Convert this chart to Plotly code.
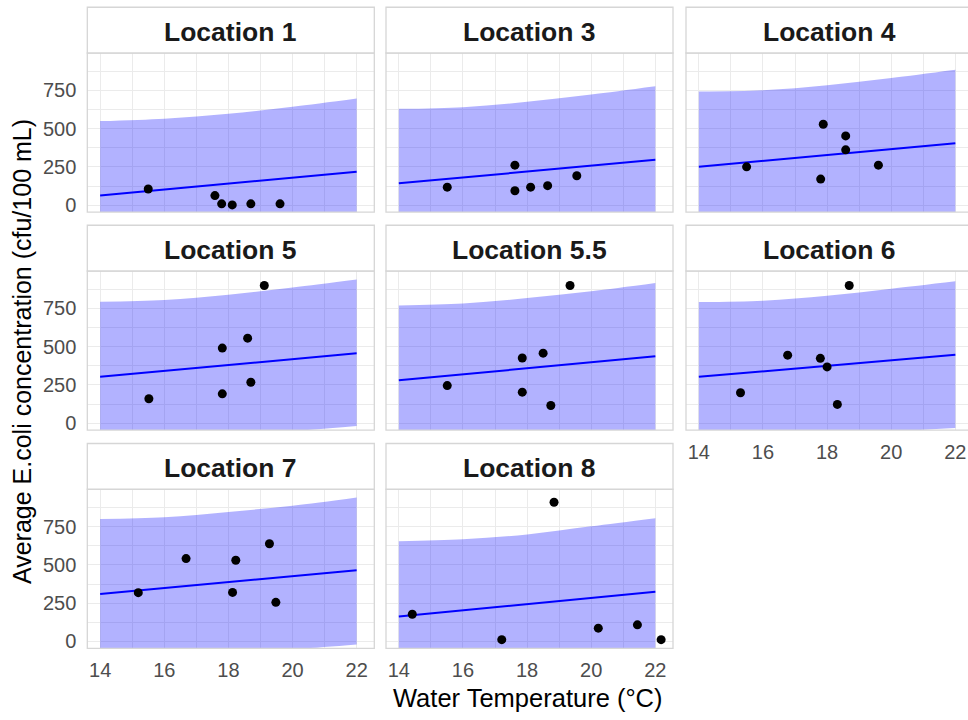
import plotly.graph_objects as go

# Sampling sites, in facet order
locations = ["Location 1", "Location 3", "Location 4", "Location 5",
             "Location 5.5", "Location 6", "Location 7", "Location 8"]

# Observed water temperature (°C) per site
water_temp = [
    [15.50, 17.58, 17.79, 18.12, 18.70, 19.61],
    [15.51, 17.62, 17.62, 18.11, 18.64, 19.55],
    [15.49, 17.88, 17.80, 18.58, 18.58, 19.60],
    [15.52, 17.81, 17.81, 18.60, 18.70, 19.12],
    [15.51, 17.85, 17.85, 18.50, 18.74, 19.34],
    [15.30, 16.77, 17.79, 18.00, 18.32, 18.69],
    [15.19, 16.68, 18.13, 18.23, 19.28, 19.48],
    [14.42, 17.21, 18.84, 20.22, 21.44, 22.18],
]

# Average E. coli concentration (cfu/100 mL) per site
ecoli = [
    [106, 63, 9, 2, 9, 9],
    [118, 262, 95, 118, 128, 193],
    [251, 529, 171, 453, 362, 262],
    [160, 192, 491, 556, 268, 900],
    [246, 203, 426, 458, 116, 900],
    [199, 445, 424, 368, 123, 900],
    [319, 542, 321, 531, 639, 256],
    [178, 12, 910, 87, 109, 12],
]

# Fitted regression line (values at 14 °C and 22 °C)
fit_x = [14, 22]
fit_y = [
    [63, 219], [143, 297], [251, 405], [303, 458],
    [281, 437], [303, 448], [310, 466], [163, 325],
]

# Prediction interval bounds
band_x = [14, 16, 18, 20, 22]
band_upper = [
    [550, 566, 598, 643, 697],
    [630, 641, 676, 723, 777],
    [743, 751, 784, 832, 886],
    [794, 805, 840, 887, 939],
    [770, 783, 818, 863, 917],
    [792, 801, 833, 879, 928],
    [801, 812, 847, 888, 942],
    [656, 668, 700, 753, 806],
]
band_lower = [
    [-424, -362, -316, -283, -259],
    [-344, -278, -236, -206, -183],
    [-241, -172, -128, -99, -76],
    [-188, -121, -79, -52, -18],
    [-208, -143, -100, -67, -46],
    [-186, -123, -82, -55, -32],
    [-185, -118, -76, -52, -20],
    [-330, -261, -212, -184, -156],
]

x_ticks = [14, 16, 18, 20, 22]
y_ticks = [0, 250, 500, 750]
x_span = [13.6, 22.55]
y_span = [-45, 995]

W, H = 968, 720
FONT = "Liberation Sans, Arial, sans-serif"
GRID = "#EBEBEB"
BORDER = "#D6D6D6"

# Panel geometry in page pixels
col_px = [(87.3, 374.3), (386.0, 673.0), (686.0, 973.0)]
row_px = [(53.3, 213.3), (272.5, 432.5), (492.0, 652.0)]
strip_h = 46

fig = go.Figure()
shapes, annotations = [], []
layout = {}

for i, name in enumerate(locations):
    r, c = divmod(i, 3)
    sfx = "" if i == 0 else str(i + 1)
    x0, x1 = col_px[c]
    top, bottom = row_px[r]
    x1c = min(x1, W)
    xr = [x_span[0], x_span[0] + (x_span[1] - x_span[0]) * (x1c - x0) / (x1 - x0)]
    xa, ya = "x" + sfx, "y" + sfx

    fig.add_trace(go.Scatter(
        x=band_x, y=band_lower[i], xaxis=xa, yaxis=ya, mode="lines",
        line=dict(width=0, shape="spline"), showlegend=False, hoverinfo="skip"))
    fig.add_trace(go.Scatter(
        x=band_x, y=band_upper[i], xaxis=xa, yaxis=ya, mode="lines",
        line=dict(width=0, shape="spline"), fill="tonexty",
        fillcolor="rgba(0,0,255,0.3)", showlegend=False, hoverinfo="skip"))
    fig.add_trace(go.Scatter(
        x=fit_x, y=fit_y[i], xaxis=xa, yaxis=ya, mode="lines",
        line=dict(color="#0000FF", width=2), showlegend=False))
    fig.add_trace(go.Scatter(
        x=water_temp[i], y=ecoli[i], xaxis=xa, yaxis=ya, mode="markers",
        marker=dict(color="black", size=9), showlegend=False))

    show_x = i in (5, 6, 7)
    show_y = c == 0
    layout["xaxis" + sfx] = dict(
        domain=[x0 / W, x1c / W], range=xr, anchor=ya,
        tickvals=x_ticks, showticklabels=show_x, ticks="",
        ticklabelstandoff=8,
        tickfont=dict(family=FONT, size=20, color="#4D4D4D"),
        showgrid=True, gridcolor=GRID, gridwidth=1.2, zeroline=False,
        showline=False,
        minor=dict(dtick=1, tick0=14, showgrid=True, gridcolor=GRID, gridwidth=1),
    )
    layout["yaxis" + sfx] = dict(
        domain=[1 - bottom / H, 1 - top / H], range=y_span, anchor=xa,
        tickvals=y_ticks, showticklabels=show_y, ticks="",
        ticklabelstandoff=10,
        tickfont=dict(family=FONT, size=20, color="#4D4D4D"),
        showgrid=True, gridcolor=GRID, gridwidth=1.2, zeroline=False,
        showline=False,
        minor=dict(dtick=125, tick0=0, showgrid=True, gridcolor=GRID, gridwidth=1),
    )

    # panel frame
    shapes.append(dict(type="rect", xref="paper", yref="paper",
                       x0=x0 / W, x1=x1 / W, y0=1 - bottom / H, y1=1 - top / H,
                       line=dict(color=BORDER, width=1.3),
                       fillcolor="rgba(0,0,0,0)", layer="above"))
    # strip
    shapes.append(dict(type="rect", xref="paper", yref="paper",
                       x0=x0 / W, x1=x1 / W, y0=1 - top / H,
                       y1=1 - (top - strip_h) / H,
                       line=dict(color=BORDER, width=1.3),
                       fillcolor="white", layer="above"))
    annotations.append(dict(
        text=name, xref="paper", yref="paper",
        x=(x0 + x1) / 2 / W, y=1 - (top - strip_h / 2 + 2) / H,
        xanchor="center", yanchor="middle", showarrow=False,
        font=dict(family=FONT, size=26.5, color="#1A1A1A", weight="bold")))

annotations.append(dict(
    text="Water Temperature (°C)", xref="paper", yref="paper",
    x=528 / W, y=1 - 702 / H, xanchor="center", yanchor="middle",
    showarrow=False, font=dict(family=FONT, size=25.5, color="black")))
annotations.append(dict(
    text="Average E.coli concentration (cfu/100 mL)", xref="paper", yref="paper",
    x=22 / W, y=1 - 354 / H, xanchor="center", yanchor="middle", textangle=-90,
    showarrow=False, font=dict(family=FONT, size=25, color="black")))

fig.update_layout(
    width=W, height=H, margin=dict(l=0, r=0, t=0, b=0),
    paper_bgcolor="white", plot_bgcolor="white",
    shapes=shapes, annotations=annotations, **layout)

fig.write_html("out.html")
